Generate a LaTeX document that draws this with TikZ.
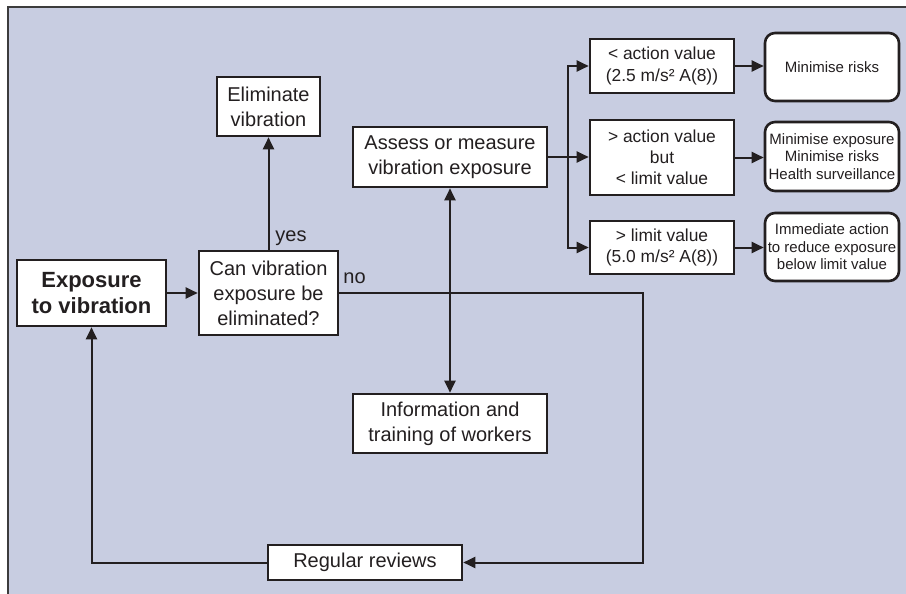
\documentclass[tikz,border=0pt]{standalone}
\usepackage{fontspec}
\setmainfont{Liberation Sans}
\usepackage{xcolor}
\definecolor{vbback}{RGB}{200,205,225}
\definecolor{vbline}{RGB}{35,31,32}
\definecolor{vbframe}{RGB}{60,60,60}
\usetikzlibrary{arrows.meta}

\begin{document}
\begin{tikzpicture}[x=0.5pt, y=-0.5pt,
    >={Triangle[length=6pt, width=5.5pt]},
    box/.style={draw=vbline, fill=white, line width=1.3pt, inner sep=0pt,
                align=center, text=vbline, font=\fontsize{10}{12.5}\selectfont},
    condbox/.style={box, minimum width=72pt, font=\fontsize{8.7}{10.6}\selectfont},
    resbox/.style={box, rounded corners=5pt, minimum width=67pt,
                   font=\fontsize{7.5}{8.8}\selectfont},
    link/.style={draw=vbline, line width=1pt, ->},
    lbl/.style={text=vbline, inner sep=0pt, font=\fontsize{10}{12}\selectfont}]
  \useasboundingbox (0,0) rectangle (906,594);

  % Background panel
  \fill[vbback] (8,7) rectangle (906,594);
  \draw[vbframe, line width=0.8pt] (8,594) -- (8,7) -- (906,7);

  % Left part -- start and decision
  \node[box, font=\bfseries\fontsize{11}{13}\selectfont,
        minimum width=74.5pt, minimum height=33pt] (expo) at (91.5,293)
       {Exposure\\to vibration};
  \node[box, minimum width=69.5pt, minimum height=42pt] (can) at (268.5,293)
       {Can vibration\\exposure be\\eliminated?};
  \node[box, minimum width=51.5pt, minimum height=29.5pt] (elim) at (268.5,106.5)
       {Eliminate\\vibration};

  % Middle column
  \node[box, minimum width=97pt, minimum height=30pt] (assess) at (450,157)
       {Assess or measure\\vibration exposure};
  \node[box, minimum width=97pt, minimum height=29.5pt] (info) at (450,423.5)
       {Information and\\training of workers};
  \node[box, minimum width=97pt, minimum height=17.5pt] (review) at (365,562.5)
       {Regular reviews};

  % Exposure levels
  \node[condbox, minimum height=27pt] (low) at (662,66)
       {< action value\\(2.5 m/s² A(8))};
  \node[condbox, minimum height=37.5pt] (mid) at (662,157.5)
       {> action value\\but\\< limit value};
  \node[condbox, minimum height=26.5pt] (high) at (662,247.5)
       {> limit value\\(5.0 m/s² A(8))};

  % Required actions
  \node[resbox, minimum height=34pt] (res1) at (832,67) {Minimise risks};
  \node[resbox, minimum height=34.5pt] (res2) at (832,156.5)
       {Minimise exposure\\Minimise risks\\Health surveillance};
  \node[resbox, minimum height=34pt] (res3) at (832,247)
       {Immediate action\\to reduce exposure\\below limit value};

  % Labels on the decision
  \node[lbl, anchor=base west] (yes) at (275,241) {yes};
  \node[lbl, anchor=base west] (no) at (343,283) {no};

  % Connectors
  \coordinate (turn) at (643,293);
  \coordinate (fork) at (568,157);
  \draw[link] (expo) -- (can);
  \draw[link] (can) -- (elim);
  \draw[link] (can.east) -- (turn) |- (review.east);
  \draw[link] (review.west) -| (expo.south);
  \draw[link, <->] (assess) -- (info);
  \draw[link] (assess.east) -- (assess.east -| mid.west);
  \draw[link] (fork) |- (low.west);
  \draw[link] (fork) |- (high.west);
  \draw[link] (low.east) -- (low.east -| res1.west);
  \draw[link] (mid.east) -- (mid.east -| res2.west);
  \draw[link] (high.east) -- (high.east -| res3.west);
\end{tikzpicture}
\end{document}
